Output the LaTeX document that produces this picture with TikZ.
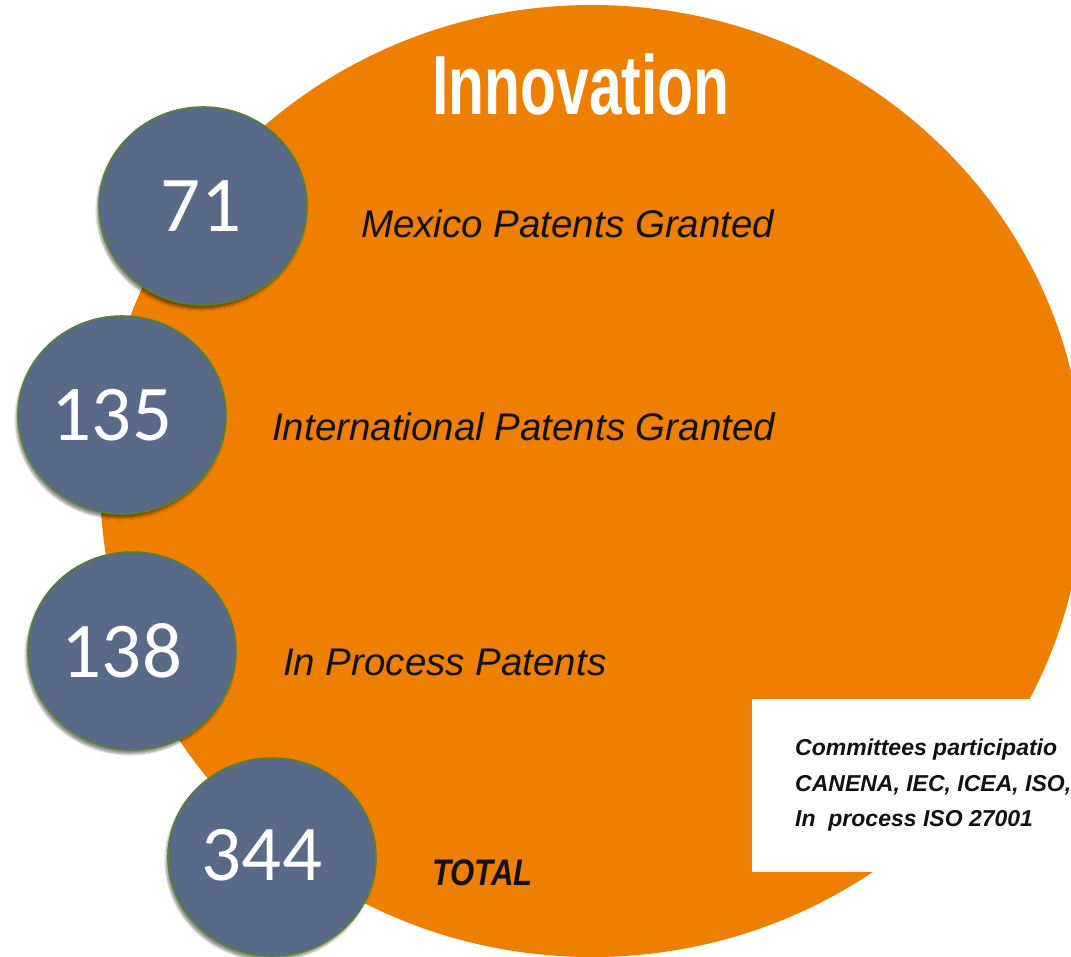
\documentclass[tikz,border=0pt]{standalone}
\usepackage{fontspec}
\setmainfont{Liberation Sans}
\newfontfamily\numfont{Carlito}
\newfontfamily\titlefont[FakeStretch=0.70]{Liberation Sans}
\newfontfamily\totfont[FakeStretch=0.84]{Liberation Sans}
\usetikzlibrary{shapes.geometric,shadows.blur}
\definecolor{orangeC}{RGB}{238,127,0}
\definecolor{slate}{RGB}{88,106,135}
\definecolor{rimgreen}{RGB}{84,130,53}
\definecolor{ink}{RGB}{18,18,18}
\begin{document}
\begin{tikzpicture}[x=1pt,y=-1pt,
  bubble/.style={ellipse,minimum width=208pt,minimum height=198pt,inner sep=0pt,
    fill=slate,draw=rimgreen,line width=1.6pt,
    blur shadow={shadow xshift=-2pt,shadow yshift=-4pt,shadow opacity=45,shadow blur steps=6}},
  num/.style={font=\numfont\fontsize{79}{80}\selectfont,text=white,inner sep=0pt},
  lab/.style={font=\itshape\fontsize{38.5}{40}\selectfont,text=ink,inner sep=0pt,anchor=base west},
  comm/.style={font=\bfseries\itshape\fontsize{23}{28}\selectfont,text=ink,inner sep=0pt,anchor=base west},
  title/.style={font=\titlefont\bfseries\fontsize{84}{86}\selectfont,text=white,inner sep=0pt,anchor=base}
]
\useasboundingbox (0,0) rectangle (1071,957);
\clip (0,0) rectangle (1071,957);
% big orange disc
\fill[orangeC] (592,481) ellipse [x radius=492, y radius=476];
% white box
\fill[white] (752,699) rectangle (1080,872);
% title
\node[title] (title) at (581,115) {Innovation};
% bubbles
\node[bubble] (b71) at (203,206) {};
\node[bubble] (b135) at (122,415) {};
\node[bubble] (b138) at (132,651) {};
\node[bubble] (b344) at (272,857) {};
\node[num] (n71) at ([xshift=-2pt]b71.center) {71};
\node[num] (n135) at ([xshift=-10pt]b135.center) {135};
\node[num] (n138) at ([xshift=-10pt]b138.center) {138};
\node[num] (n344) at ([xshift=-10pt,yshift=2pt]b344.center) {344};
% labels
\node[lab] (l71) at (361,238) {Mexico Patents Granted};
\node[lab] (l135) at (272,440) {International Patents Granted};
\node[lab] (l138) at (283,675) {In Process Patents};
\node[inner sep=0pt,anchor=base west,text=ink,font=\totfont\bfseries\itshape\fontsize{37}{38}\selectfont] (l344) at (432,885) {TOTAL};
% committees
\node[comm] (c1) at (795,755) {Committees participatio};
\node[comm] (c2) at (795,791) {CANENA, IEC, ICEA, ISO,};
\node[comm] (c3) at (795,826) {In\ \ process ISO 27001};
\end{tikzpicture}
\end{document}
